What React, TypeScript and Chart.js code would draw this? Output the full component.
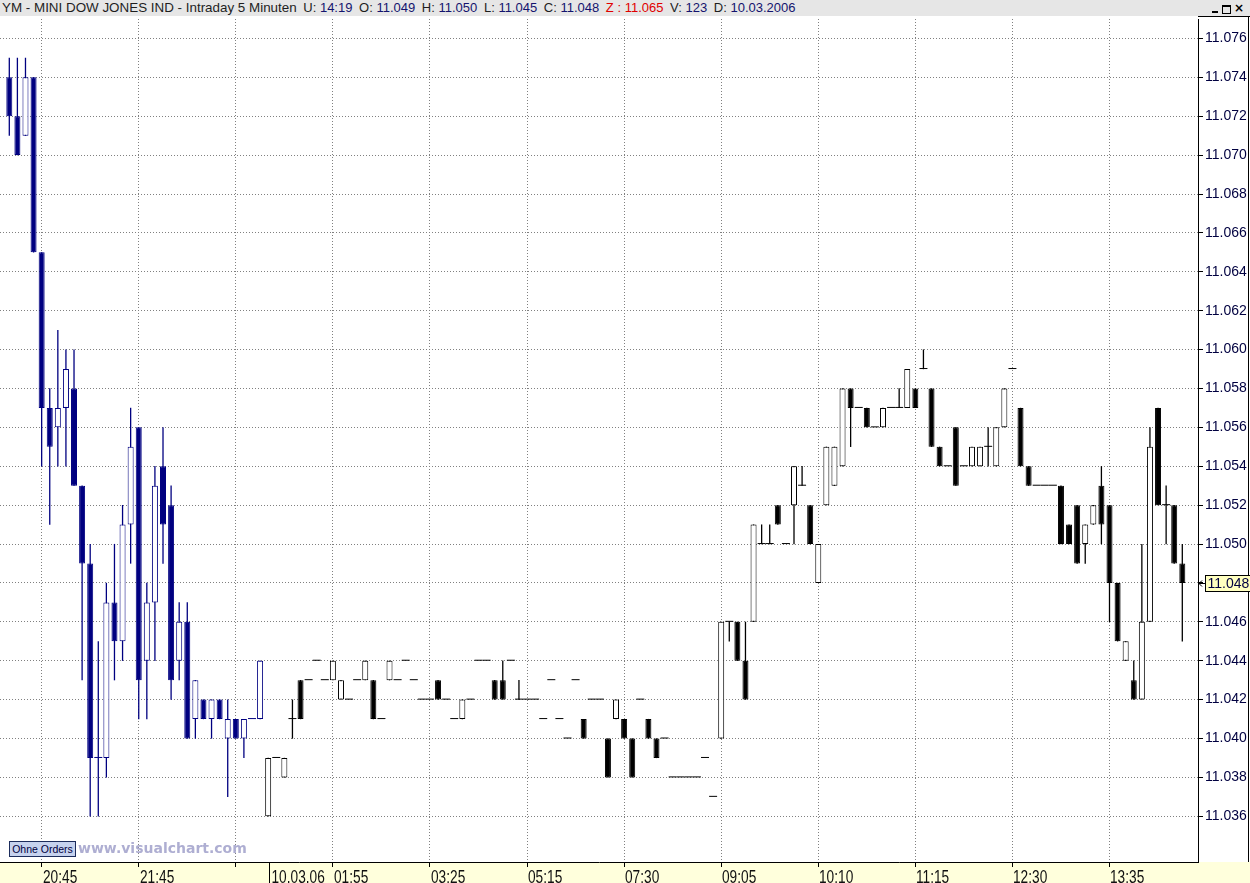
import React, { useEffect, useRef } from 'react';
import { Chart, registerables } from 'chart.js';

Chart.register(...registerables);

// ---- Data (index points, shown as 11.0xx) ----
const opens = [
  11074, 11072, 11071, 11074, 11065, 11057, 11056, 11057, 11058, 11053,
  11049, 11039, 11039, 11047, 11045, 11051, 11056, 11044, 11047, 11054,
  11052, 11044, 11046, 11041, 11042, 11041, 11042, 11040, 11041, 11040,
  11041, 11041, 11036, 11039, 11038, 11041, 11043, 11043, 11044, 11043,
  11043, 11042, 11042, 11043, 11043, 11043, 11041, 11043, 11043, 11044,
  11043, 11042, 11042, 11043, 11042, 11041, 11041, 11042, 11044, 11044,
  11043, 11043, 11044, 11042, 11042, 11042, 11041, 11043, 11041, 11040,
  11043, 11041, 11042, 11042, 11040, 11041, 11041, 11040, 11042, 11041,
  11040, 11040, 11038, 11038, 11038, 11038, 11039, 11037, 11040, 11046,
  11046, 11044, 11046, 11050, 11050, 11052, 11050, 11052, 11053, 11052,
  11048, 11052, 11053, 11054, 11058, 11057, 11057, 11056, 11056, 11057,
  11057, 11057, 11058, 11059, 11058, 11055, 11054, 11056, 11054, 11054,
  11054, 11055, 11054, 11056, 11059, 11057, 11054, 11053, 11053, 11053,
  11053, 11051, 11052, 11050, 11051, 11053, 11052, 11048, 11044, 11043,
  11042, 11046, 11057, 11052, 11052, 11049,
];
const highs = [
  11075, 11075, 11075, 11074, 11065, 11058, 11061, 11060, 11060, 11053,
  11050, 11045, 11048, 11050, 11052, 11057, 11056, 11048, 11054, 11056,
  11053, 11047, 11047, 11043, 11042, 11042, 11042, 11042, 11041, 11041,
  11041, 11044, 11039, 11039, 11039, 11042, 11043, 11043, 11044, 11043,
  11044, 11043, 11042, 11043, 11044, 11043, 11041, 11044, 11043, 11044,
  11043, 11042, 11042, 11043, 11042, 11041, 11042, 11042, 11044, 11044,
  11043, 11044, 11044, 11043, 11042, 11042, 11041, 11043, 11041, 11040,
  11043, 11041, 11042, 11042, 11040, 11042, 11041, 11040, 11042, 11041,
  11040, 11040, 11038, 11038, 11038, 11038, 11039, 11037, 11046, 11046,
  11046, 11046, 11051, 11051, 11051, 11052, 11050, 11054, 11054, 11052,
  11050, 11055, 11055, 11058, 11058, 11057, 11057, 11056, 11057, 11057,
  11058, 11059, 11058, 11060, 11058, 11055, 11054, 11056, 11054, 11055,
  11055, 11056, 11056, 11058, 11059, 11057, 11054, 11053, 11053, 11053,
  11053, 11051, 11052, 11051, 11052, 11054, 11052, 11048, 11045, 11044,
  11050, 11056, 11057, 11053, 11052, 11050,
];
const lows = [
  11071, 11070, 11071, 11065, 11054, 11051, 11054, 11054, 11053, 11043,
  11036, 11036, 11038, 11043, 11044, 11049, 11041, 11041, 11044, 11049,
  11042, 11043, 11040, 11040, 11041, 11040, 11041, 11037, 11040, 11039,
  11041, 11041, 11036, 11039, 11038, 11040, 11041, 11043, 11044, 11043,
  11043, 11042, 11042, 11043, 11043, 11041, 11041, 11043, 11043, 11044,
  11043, 11042, 11042, 11042, 11042, 11041, 11041, 11042, 11044, 11044,
  11042, 11042, 11044, 11042, 11042, 11042, 11041, 11043, 11041, 11040,
  11043, 11040, 11042, 11042, 11038, 11041, 11040, 11038, 11042, 11040,
  11039, 11040, 11038, 11038, 11038, 11038, 11039, 11037, 11040, 11045,
  11044, 11042, 11046, 11050, 11050, 11051, 11050, 11050, 11053, 11050,
  11048, 11052, 11053, 11054, 11055, 11057, 11056, 11056, 11056, 11057,
  11057, 11057, 11057, 11059, 11055, 11054, 11054, 11053, 11054, 11054,
  11054, 11054, 11054, 11056, 11059, 11054, 11053, 11053, 11053, 11053,
  11050, 11050, 11049, 11049, 11051, 11050, 11046, 11045, 11044, 11042,
  11042, 11046, 11052, 11050, 11049, 11045,
];
const closes = [
  11072, 11070, 11074, 11065, 11057, 11055, 11057, 11059, 11053, 11049,
  11039, 11039, 11047, 11045, 11051, 11055, 11043, 11047, 11053, 11051,
  11043, 11046, 11040, 11043, 11041, 11042, 11041, 11041, 11040, 11041,
  11041, 11044, 11039, 11039, 11039, 11041, 11041, 11043, 11044, 11043,
  11044, 11043, 11042, 11043, 11044, 11041, 11041, 11044, 11043, 11044,
  11043, 11042, 11042, 11042, 11042, 11041, 11042, 11042, 11044, 11044,
  11042, 11042, 11044, 11042, 11042, 11042, 11041, 11043, 11041, 11040,
  11043, 11040, 11042, 11042, 11038, 11042, 11040, 11038, 11042, 11040,
  11039, 11040, 11038, 11038, 11038, 11038, 11039, 11037, 11046, 11046,
  11044, 11042, 11051, 11050, 11050, 11051, 11050, 11054, 11053, 11050,
  11050, 11055, 11055, 11058, 11057, 11057, 11056, 11056, 11057, 11057,
  11057, 11059, 11057, 11059, 11055, 11054, 11054, 11053, 11054, 11055,
  11055, 11055, 11056, 11058, 11059, 11054, 11053, 11053, 11053, 11053,
  11050, 11050, 11049, 11051, 11052, 11051, 11048, 11045, 11045, 11042,
  11046, 11055, 11052, 11052, 11049, 11048,
];

const dayBreakIndex = 32;
const dateLabel = '10.03.06';
const xTickBars = [4, 16, 28, 40, 52, 64, 76, 88, 100, 112, 124, 136];
const xTickLabels = ['20:45', '21:45', '', '01:55', '03:25', '05:15', '07:30', '09:05', '10:10', '11:15', '12:30', '13:35'];
const yTickValues = [
  11036, 11038, 11040, 11042, 11044, 11046, 11048, 11050, 11052, 11054, 11056,
  11058, 11060, 11062, 11064, 11066, 11068, 11070, 11072, 11074, 11076,
];

const headerTitle = 'YM - MINI DOW JONES IND - Intraday 5 Minuten';
const headerTime = '14:19';
const headerTarget = '11.065';
const headerVolume = '123';
const headerDate = '10.03.2006';

const fmt = (v: number) => (v / 1000).toFixed(3);

const PREV_DAY = '#000080';
const CUR_DAY = '#000000';
const colorOf = (i: number) => (i < dayBreakIndex ? PREV_DAY : CUR_DAY);

const SANS = '"Liberation Sans", Arial, sans-serif';

export default function App() {
  const canvasRef = useRef<HTMLCanvasElement | null>(null);

  useEffect(() => {
    const canvas = canvasRef.current;
    if (!canvas) return;
    const idx = closes.map((_, i) => i);
    const wickData = idx.filter((i) => highs[i] > lows[i]).map((i) => ({ x: i, y: [lows[i], highs[i]] }));
    const bodyData = idx.filter((i) => opens[i] !== closes[i]).map((i) => ({ x: i, y: [opens[i], closes[i]] }));
    const dojiData = idx.filter((i) => opens[i] === closes[i]).map((i) => ({ x: i, y: [opens[i], closes[i]] }));
    const rawIndex = (c: any) => (c && c.raw ? c.raw.x : 0);

    const decor = {
      id: 'decor',
      beforeDraw(chart: any) {
        const { ctx, chartArea } = chart;
        ctx.save();
        ctx.fillStyle = '#ffffdc';
        ctx.fillRect(0, chartArea.bottom, chart.width, chart.height - chartArea.bottom);
        ctx.restore();
      },
      afterDraw(chart: any) {
        const { ctx, chartArea } = chart;
        const xs = chart.scales.x;
        const ys = chart.scales.y;
        ctx.save();
        ctx.strokeStyle = '#000';
        ctx.lineWidth = 1;
        ctx.setLineDash([]);
        ctx.beginPath();
        ctx.moveTo(ys.left, 0.5);
        ctx.lineTo(chart.width, 0.5);
        ctx.moveTo(chart.width - 1.5, 0);
        ctx.lineTo(chart.width - 1.5, chartArea.bottom);
        ctx.stroke();

        // day separator on the time axis
        const sx = Math.round(xs.getPixelForValue(dayBreakIndex)) + 1.5;
        ctx.beginPath();
        ctx.moveTo(sx, chartArea.bottom);
        ctx.lineTo(sx, chart.height);
        ctx.stroke();

        // time labels (condensed)
        ctx.fillStyle = '#101010';
        ctx.font = '18px ' + SANS;
        ctx.textAlign = 'left';
        ctx.textBaseline = 'alphabetic';
        const drawLbl = (text: string, px: number) => {
          ctx.save();
          ctx.translate(px, chart.height);
          ctx.scale(0.76, 1);
          ctx.fillText(text, 0, 0);
          ctx.restore();
        };
        xTickBars.forEach((b, k) => {
          if (xTickLabels[k]) drawLbl(xTickLabels[k], Math.round(xs.getPixelForValue(b)) + 1);
        });
        drawLbl(dateLabel, sx + 2);

        // last price marker
        const last = closes[closes.length - 1];
        const py = Math.round(ys.getPixelForValue(last)) + 0.5;
        const bx = ys.left + 7.5;
        ctx.fillStyle = '#ffffc0';
        ctx.fillRect(bx, py - 8, chart.width - bx, 16);
        ctx.strokeRect(bx, py - 8, chart.width - bx + 5, 16);
        ctx.fillStyle = '#000040';
        ctx.font = '14px ' + SANS;
        ctx.textBaseline = 'middle';
        ctx.fillText(fmt(last), bx + 2, py + 1);
        ctx.beginPath();
        ctx.moveTo(ys.left + 1, py);
        ctx.lineTo(bx, py);
        ctx.moveTo(ys.left + 4, py - 3);
        ctx.lineTo(ys.left + 1, py);
        ctx.lineTo(ys.left + 4, py + 3);
        ctx.stroke();
        ctx.restore();
      },
    };

    const chart = new Chart(canvas, {
      type: 'bar',
      data: {
        datasets: [
          {
            label: 'wick',
            data: wickData as any,
            barThickness: 1,
            backgroundColor: (c: any) => colorOf(rawIndex(c)),
            borderWidth: 0,
            grouped: false,
            order: 3,
            inflateAmount: 0.15,
          } as any,
          {
            label: 'body',
            data: bodyData as any,
            barThickness: 6,
            backgroundColor: (c: any) => {
              const i = rawIndex(c);
              return closes[i] > opens[i] ? '#ffffff' : colorOf(i);
            },
            borderColor: (c: any) => colorOf(rawIndex(c)),
            borderWidth: 1,
            borderSkipped: false,
            grouped: false,
            order: 2,
            inflateAmount: 0,
          } as any,
          {
            label: 'doji',
            data: dojiData as any,
            barThickness: 8,
            minBarLength: 1,
            backgroundColor: (c: any) => colorOf(rawIndex(c)),
            borderWidth: 0,
            grouped: false,
            order: 1,
            inflateAmount: 0,
          } as any,
        ],
      },
      options: {
        responsive: false,
        animation: false,
        events: [],
        devicePixelRatio: 1,
        layout: { padding: { top: 3, left: 0, right: 0, bottom: 0 } },
        plugins: { legend: { display: false }, tooltip: { enabled: false } },
        scales: {
          x: {
            type: 'linear',
            min: -1.15,
            max: 146.94,
            offset: false,
            bounds: 'data',
            afterBuildTicks: (s: any) => {
              s.ticks = xTickBars.map((v) => ({ value: v }));
            },
            afterFit: (s: any) => {
              s.height = 21;
              s.paddingLeft = 0;
              s.paddingRight = 0;
            },
            ticks: { display: false },
            grid: {
              color: '#808080',
              lineWidth: 1,
              drawTicks: true,
              tickLength: 5,
              tickColor: '#000000',
              tickWidth: 1,
              tickBorderDash: [],
              offset: false,
            },
            border: { display: true, color: '#000000', width: 1, dash: [1, 2] },
          },
          y: {
            type: 'linear',
            position: 'right',
            min: 11033.65,
            max: 11077,
            beginAtZero: false,
            bounds: 'data',
            afterBuildTicks: (s: any) => {
              s.ticks = yTickValues.map((v) => ({ value: v }));
            },
            afterFit: (s: any) => {
              s.width = 52;
              s.paddingTop = 0;
              s.paddingBottom = 0;
            },
            ticks: {
              callback: (v: any) => fmt(Number(v)),
              color: '#000040',
              font: { family: SANS, size: 14 },
              padding: 2,
            },
            grid: {
              color: '#808080',
              lineWidth: 1,
              drawTicks: true,
              tickLength: 5,
              tickColor: '#000000',
              tickWidth: 1,
              tickBorderDash: [],
            },
            border: { display: true, color: '#000000', width: 1, dash: [1, 2] },
          },
        },
      } as any,
      plugins: [decor],
    });
    return () => chart.destroy();
  }, []);

  const n = closes.length;
  const fields: [string, string, boolean][] = [
    ['U:', headerTime, false],
    ['O:', fmt(opens[n - 1]), false],
    ['H:', fmt(highs[n - 1]), false],
    ['L:', fmt(lows[n - 1]), false],
    ['C:', fmt(closes[n - 1]), false],
    ['Z :', headerTarget, true],
    ['V:', headerVolume, false],
    ['D:', headerDate, false],
  ];

  return (
    <div style={{ position: 'absolute', left: 0, top: 0, width: 1250, height: 883, background: '#ffffff', overflow: 'hidden' }}>
      <div
        style={{
          position: 'absolute', left: 0, top: 0, width: 1250, height: 16, background: '#e6e6e6',
          fontFamily: SANS, fontSize: 13, lineHeight: '16px', whiteSpace: 'nowrap', color: '#1e1e1e',
        }}
      >
        <span style={{ position: 'absolute', left: 2, top: 0 }}>
          <span style={{ fontSize: 13.4 }}>{headerTitle}</span>
          {fields.map(([l, v, red]) => (
            <span key={l}>
              {' '}
              <span style={{ marginLeft: 3, color: red ? '#e00000' : '#1e1e1e' }}>{l}</span>{' '}
              <span style={{ color: red ? '#e00000' : '#14146e' }}>{v}</span>
            </span>
          ))}
        </span>
        <div style={{ position: 'absolute', left: 1211, top: 5, width: 9, height: 9 }}>
          <div style={{ position: 'absolute', left: 1, top: 6, width: 6, height: 2, background: '#000' }} />
        </div>
        <div style={{ position: 'absolute', left: 1222, top: 5, width: 7, height: 6, border: '1px solid #000', borderTopWidth: 2 }} />
        <div style={{ position: 'absolute', left: 1234, top: 1, width: 10, height: 14, fontFamily: '"DejaVu Sans", sans-serif', fontSize: 12, fontWeight: 700, lineHeight: '14px', color: '#000' }}>×</div>
      </div>
      <canvas ref={canvasRef} width={1250} height={867} style={{ position: 'absolute', left: 0, top: 16, width: 1250, height: 867 }} />
      <div
        style={{
          position: 'absolute', left: 9, top: 841, width: 65, height: 14, background: '#c6d2ee',
          border: '1px solid #1c2c5c', fontFamily: SANS, fontSize: 10.5, lineHeight: '14px',
          color: '#000040', textAlign: 'center', whiteSpace: 'nowrap', zIndex: 2,
        }}
      >
        Ohne Orders
      </div>
      <div
        style={{
          position: 'absolute', left: 78, top: 840, fontFamily: '"DejaVu Sans", sans-serif', fontWeight: 700,
          fontSize: 14, lineHeight: '16px', color: '#aeaed2', whiteSpace: 'nowrap', zIndex: 2,
        }}
      >
        www.visualchart.com
      </div>
    </div>
  );
}
